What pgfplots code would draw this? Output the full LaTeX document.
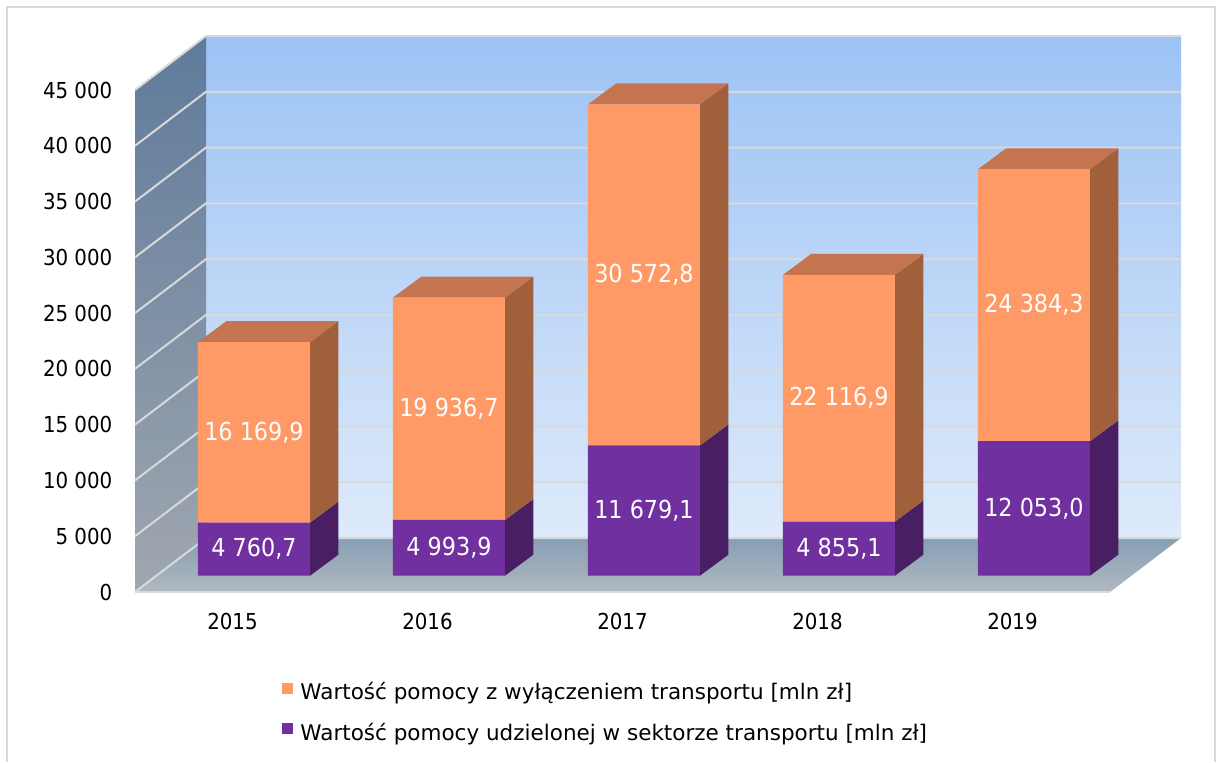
\documentclass[border=0pt]{standalone}
\usepackage{pgfplots}
\pgfplotsset{compat=1.18}
\usepackage{pgfplotstable}
\usepackage{fontspec}
\setmainfont{DejaVu Sans}
\newfontfamily\numfont{DejaVu Sans}[FakeStretch=0.9]
\usetikzlibrary{calc}

\definecolor{orfront}{RGB}{255,153,102}
\definecolor{ortop}{RGB}{196,116,79}
\definecolor{orside}{RGB}{160,96,60}
\definecolor{pufront}{RGB}{112,48,160}
\definecolor{puside}{RGB}{74,30,98}
\definecolor{gridc}{RGB}{217,217,217}
\definecolor{backtop}{RGB}{156,195,245}
\definecolor{backbot}{RGB}{222,234,250}
\definecolor{sidetop}{RGB}{94,122,155}
\definecolor{sidebot}{RGB}{160,167,176}
\definecolor{floorback}{RGB}{134,159,181}
\definecolor{floorfront}{RGB}{176,184,191}

\pgfplotstableread{
x p o
0 4760.7 16169.9
1 4993.9 19936.7
2 11679.1 30572.8
3 4855.1 22116.9
4 12053.0 24384.3
}\datatable

\pgfplotsset{
  geom/.style={scale only axis, width=487.5pt, height=251pt,
    xmin=-0.5, xmax=4.5, ymin=0, ymax=45000,
    at={(78.25pt,93.15pt)}, anchor=south west, clip=false},
}

\begin{document}
\begin{tikzpicture}
\path[use as bounding box] (0,0) rectangle (608.5pt,381pt);
\draw[gridc, line width=1pt] (3.5pt,0) -- (3.5pt,377.5pt) -- (607.5pt,377.5pt) -- (607.5pt,0);

\begin{axis}[geom, hide axis]
  % back wall
  \shade[top color=backtop, bottom color=backbot]
    ($(axis cs:-0.5,0)+(24.75pt,18.85pt)$) rectangle ($(axis cs:4.5,45000)+(24.75pt,18.85pt)$);
  % side wall
  \shade[top color=sidetop, bottom color=sidebot]
    ($(axis cs:-0.5,0)+(-10.75pt,-8.15pt)$) -- ($(axis cs:-0.5,0)+(24.75pt,18.85pt)$)
    -- ($(axis cs:-0.5,45000)+(24.75pt,18.85pt)$) -- ($(axis cs:-0.5,45000)+(-10.75pt,-8.15pt)$) -- cycle;
  % floor
  \shade[top color=floorback, bottom color=floorfront]
    ($(axis cs:-0.5,0)+(-10.75pt,-8.15pt)$) -- ($(axis cs:4.5,0)+(-10.75pt,-8.15pt)$)
    -- ($(axis cs:4.5,0)+(24.75pt,18.85pt)$) -- ($(axis cs:-0.5,0)+(24.75pt,18.85pt)$) -- cycle;
  \pgfplotsinvokeforeach{0,5000,10000,15000,20000,25000,30000,35000,40000,45000}{
    \draw[gridc, line width=1pt] ($(axis cs:-0.5,#1)+(-10.75pt,-8.15pt)$) -- ($(axis cs:-0.5,#1)+(24.75pt,18.85pt)$) -- ($(axis cs:4.5,#1)+(24.75pt,18.85pt)$);
  }
  \draw[gridc, line width=1pt] ($(axis cs:-0.5,0)+(-10.75pt,-8.15pt)$) -- ($(axis cs:4.5,0)+(-10.75pt,-8.15pt)$);

  % 3D side and top faces of the bars
  % 2015
  \addplot[fill=puside, draw=none, forget plot] coordinates {(0.2872,0) (0.4323,1880) (0.4323,6640.7) (0.2872,4760.7)};
  \addplot[fill=orside, draw=none, forget plot] coordinates {(0.2872,4760.7) (0.4323,6640.7) (0.4323,22810.6) (0.2872,20930.6)};
  \addplot[fill=ortop, draw=none, forget plot] coordinates {(-0.2872,20930.6) (0.2872,20930.6) (0.4323,22810.6) (-0.1421,22810.6)};
  % 2016
  \addplot[fill=puside, draw=none, forget plot] coordinates {(1.2872,0) (1.4323,1880) (1.4323,6873.9) (1.2872,4993.9)};
  \addplot[fill=orside, draw=none, forget plot] coordinates {(1.2872,4993.9) (1.4323,6873.9) (1.4323,26810.6) (1.2872,24930.6)};
  \addplot[fill=ortop, draw=none, forget plot] coordinates {(0.7128,24930.6) (1.2872,24930.6) (1.4323,26810.6) (0.8579,26810.6)};
  % 2017
  \addplot[fill=puside, draw=none, forget plot] coordinates {(2.2872,0) (2.4323,1880) (2.4323,13559.1) (2.2872,11679.1)};
  \addplot[fill=orside, draw=none, forget plot] coordinates {(2.2872,11679.1) (2.4323,13559.1) (2.4323,44131.9) (2.2872,42251.9)};
  \addplot[fill=ortop, draw=none, forget plot] coordinates {(1.7128,42251.9) (2.2872,42251.9) (2.4323,44131.9) (1.8579,44131.9)};
  % 2018
  \addplot[fill=puside, draw=none, forget plot] coordinates {(3.2872,0) (3.4323,1880) (3.4323,6735.1) (3.2872,4855.1)};
  \addplot[fill=orside, draw=none, forget plot] coordinates {(3.2872,4855.1) (3.4323,6735.1) (3.4323,28852.0) (3.2872,26972.0)};
  \addplot[fill=ortop, draw=none, forget plot] coordinates {(2.7128,26972.0) (3.2872,26972.0) (3.4323,28852.0) (2.8579,28852.0)};
  % 2019
  \addplot[fill=puside, draw=none, forget plot] coordinates {(4.2872,0) (4.4323,1880) (4.4323,13933.0) (4.2872,12053.0)};
  \addplot[fill=orside, draw=none, forget plot] coordinates {(4.2872,12053.0) (4.4323,13933.0) (4.4323,38317.3) (4.2872,36437.3)};
  \addplot[fill=ortop, draw=none, forget plot] coordinates {(3.7128,36437.3) (4.2872,36437.3) (4.4323,38317.3) (3.8579,38317.3)};
\end{axis}

\begin{axis}[geom,
  ybar stacked, bar width=56pt,
  axis line style={draw=none}, major tick length=0pt,
  xtick={0,1,2,3,4}, xticklabels={2015,2016,2017,2018,2019},
  ytick={0,5000,10000,15000,20000,25000,30000,35000,40000,45000},
  yticklabels={0,5 000,10 000,15 000,20 000,25 000,30 000,35 000,40 000,45 000},
  scaled y ticks=false,
  /pgf/number format/assume math mode=true,
  tick label style={font=\numfont\fontsize{11}{13}\selectfont, inner sep=0pt, text=black},
  xticklabel style={anchor=base, xshift=-10.75pt, yshift=-27pt},
  yticklabel style={anchor=east, xshift=-21.9pt, yshift=-8.15pt},
  legend image code/.code={\fill[#1] (0pt,0pt) rectangle (5.4pt,5.6pt);},
  reverse legend,
  legend cell align=left,
  legend style={at={(0.1287,-0.2124)}, anchor=north west, draw=none, fill=none,
    inner sep=0pt, row sep=9pt, font=\fontsize{10.75}{13}\selectfont,
    nodes={inner sep=0pt, text height=8.5pt, text depth=2.5pt},
    /tikz/every odd column/.style={column sep=3.65pt}},
]
\addplot[fill=pufront, draw=none] table[x=x, y=p] {\datatable};
\addlegendentry{Wartość pomocy udzielonej w sektorze transportu [mln zł]}
\addplot[fill=orfront, draw=none] table[x=x, y=o] {\datatable};
\addlegendentry{Wartość pomocy z wyłączeniem transportu [mln zł]}
\end{axis}

% value labels, centred in each segment
\begin{axis}[geom, hide axis,
  /pgf/number format/assume math mode=true,
  point meta=explicit,
  nodes near coords={\pgfmathprintnumber[fixed, fixed zerofill, precision=1, use comma, 1000 sep={\ }]{\pgfplotspointmeta}},
  every node near coord/.append style={font=\numfont\fontsize{12.4}{15}\selectfont, text=white, anchor=center, inner sep=0pt},
]
\addplot[draw=none, mark=none] table[x=x, y expr=0.5*\thisrow{p}, meta=p] {\datatable};
\addplot[draw=none, mark=none] table[x=x, y expr=\thisrow{p}+0.5*\thisrow{o}, meta=o] {\datatable};
\end{axis}
\end{tikzpicture}
\end{document}
